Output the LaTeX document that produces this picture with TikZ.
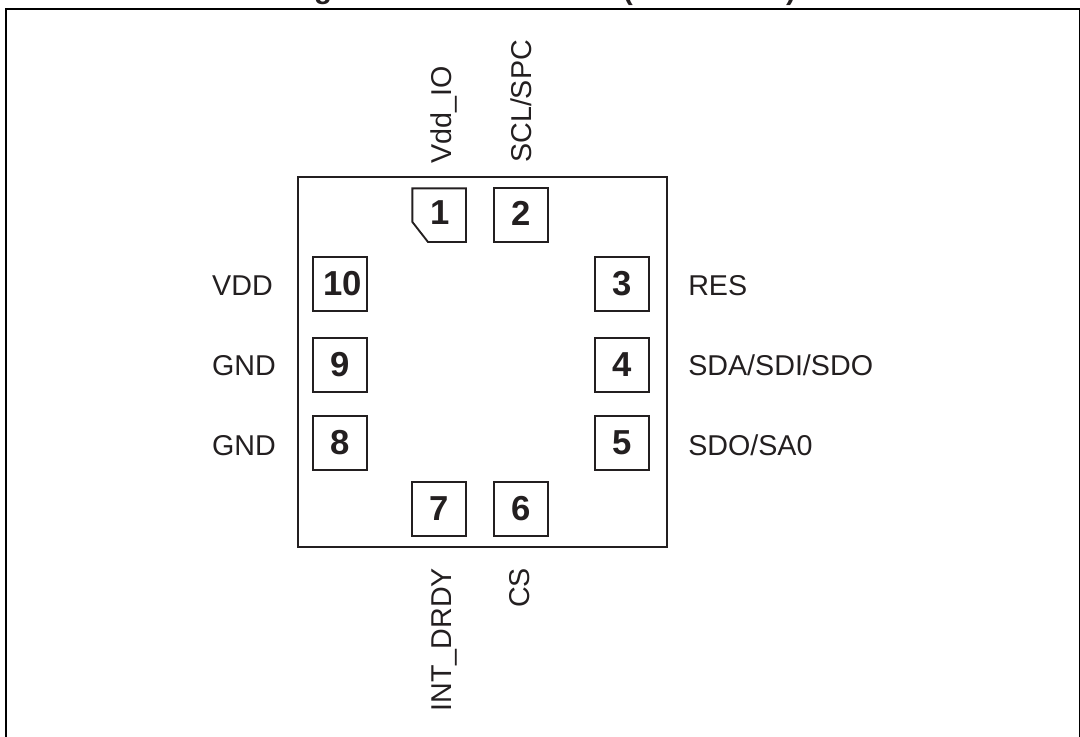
\documentclass[tikz,border=0pt]{standalone}
\usepackage{fontspec}
\setmainfont{Liberation Sans}
\definecolor{ink}{HTML}{231F20}
\tikzset{
  pindigit/.style={font=\fontsize{26}{30}\selectfont\bfseries,text=ink},
  pinbox/.style={pindigit,draw=ink,line width=1.1pt,minimum width=40.5pt,minimum height=40.5pt,inner sep=0pt},
  pinlabel/.style={inner sep=0pt,font=\fontsize{21.5}{25}\selectfont,text=ink},
  vlabel/.style={pinlabel,rotate=90,anchor=base west},
  hlabel/.style={pinlabel,anchor=base west},
  hlabelr/.style={pinlabel,anchor=base east},
  frag/.style={inner sep=0pt,anchor=base,font=\fontsize{22}{26}\selectfont\bfseries,text=ink}
}
\begin{document}
\begin{tikzpicture}[x=0.75pt,y=-0.75pt]
\useasboundingbox (0,0) rectangle (1080,736);
\begin{scope}
\clip (0,0) rectangle (1080,6.5);
\node[frag] (tg) at (323,-1.5) {g};
\node[frag] (tl) at (628,-1) {(};
\node[frag] (tr) at (791,-1) {)};
\end{scope}
\draw[line width=1.5pt,black] (6,746) -- (6,8.5) -- (1079.6,8.5) -- (1079.6,746);
\node[draw=ink,line width=1.4pt,minimum width=276.75pt,minimum height=277.5pt,inner sep=0pt] (pkg) at (482.8,362) {};
\draw[line width=1.4pt,ink] (412.4,188.4) -- (466,188.4) -- (466,242) -- (428,242) -- (412.4,222) -- cycle;
\node[pindigit,inner sep=0pt] (p1) at (440,212.5) {1};
\node[pinbox] (p2) at (521,215) {\raisebox{1.9pt}{2}};
\node[pinbox] (p3) at (622,284) {3};
\node[pinbox] (p4) at (622,365) {4};
\node[pinbox] (p5) at (622,443) {5};
\node[pinbox] (p6) at (521,509) {6};
\node[pinbox] (p7) at (439,509) {7};
\node[pinbox] (p8) at (340,443) {8};
\node[pinbox] (p9) at (340,365) {9};
\node[pinbox] (p10) at (340,284) {\hspace*{4pt}10};
\node[vlabel] (l1) at (451.7,164) {Vdd\_IO};
\node[vlabel] (l2) at (531.7,163) {SCL/SPC};
\node[hlabel] (l3) at (688,295) {RES};
\node[hlabel] (l4) at (688,375) {SDA/SDI/SDO};
\node[hlabel] (l5) at (688,455) {SDO/SA0};
\node[vlabel] (l6) at (529.5,608) {CS};
\node[vlabel] (l7) at (451.7,711.5) {INT\_DRDY};
\node[hlabelr] (l8) at (276,455) {GND};
\node[hlabelr] (l9) at (276,375) {GND};
\node[hlabelr] (l10) at (273,295) {VDD};
\end{tikzpicture}
\end{document}
